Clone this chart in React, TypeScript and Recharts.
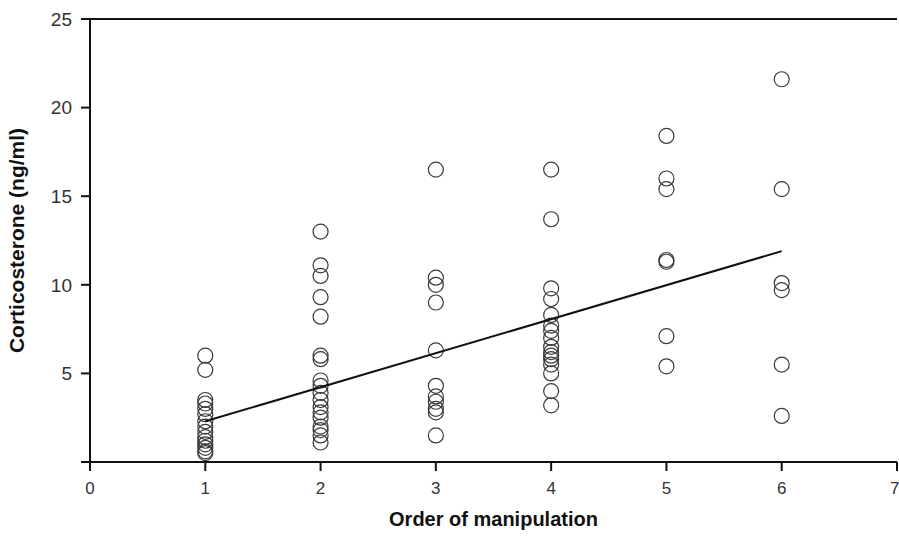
import { ScatterChart, Scatter, XAxis, YAxis, ReferenceLine, Label } from "recharts";

// corticosterone (ng/ml) by order of manipulation
const order1 = [6.0, 5.2, 3.5, 3.3, 3.0, 2.7, 2.3, 2.0, 1.7, 1.4, 1.2, 1.0, 0.8, 0.6, 0.5];
const order2 = [13.0, 11.1, 10.5, 9.3, 8.2, 6.0, 5.8, 4.6, 4.3, 3.9, 3.5, 3.1, 2.8, 2.5, 2.0, 1.8, 1.5, 1.1];
const order3 = [16.5, 10.4, 10.0, 9.0, 6.3, 4.3, 3.7, 3.4, 3.0, 2.8, 1.5];
const order4 = [16.5, 13.7, 9.8, 9.2, 8.3, 7.7, 7.4, 7.0, 6.5, 6.2, 6.0, 5.8, 5.5, 5.0, 4.0, 3.2];
const order5 = [18.4, 16.0, 15.4, 11.4, 11.3, 7.1, 5.4];
const order6 = [21.6, 15.4, 10.1, 9.7, 5.5, 2.6];

const groups = [order1, order2, order3, order4, order5, order6];
const points = groups.flatMap((vals, i) => vals.map((v) => ({ x: i + 1, y: v })));

// regression line end points
const fitX = [1, 6];
const fitY = [2.3, 11.9];
const fit = fitX.map((x, i) => ({ x, y: fitY[i] }));

const xTicks = [0, 1, 2, 3, 4, 5, 6, 7];
const yTicks = [0, 5, 10, 15, 20, 25];

const font = "'Liberation Sans', Arial, sans-serif";

const Ring = (props: any) => (
  <circle cx={props.cx} cy={props.cy} r={7.5} fill="none" stroke="#3a3a3a" strokeWidth={1.2} />
);

export default function App() {
  return (
    <div style={{ position: "absolute", left: 0, top: 0, background: "#fff" }}>
      <ScatterChart width={899} height={536} margin={{ top: 19, right: 2, left: 30, bottom: 34 }}>
        <XAxis
          type="number"
          dataKey="x"
          domain={[0, 7]}
          ticks={xTicks}
          stroke="#111"
          strokeWidth={2}
          tickSize={9}
          tickMargin={11}
          height={40}
          tick={{ fill: "#333", fontSize: 17, fontFamily: font }}
          allowDecimals={false}
        >
          <Label value="Order of manipulation" position="bottom" offset={10}
            style={{ fontFamily: font, fontWeight: "bold", fontSize: 20, fill: "#111" }} />
        </XAxis>
        <YAxis
          type="number"
          dataKey="y"
          domain={[0, 25]}
          ticks={yTicks}
          tickFormatter={(v) => (v === 0 ? "" : String(v))}
          stroke="#111"
          strokeWidth={2}
          tickSize={9}
          tickMargin={9}
          width={60}
          tick={{ fill: "#333", fontSize: 19, fontFamily: font }}
        >
          <Label value="Corticosterone (ng/ml)" angle={-90} position="insideLeft" offset={-13}
            style={{ fontFamily: font, fontWeight: "bold", fontSize: 21, fill: "#111", textAnchor: "middle" }} />
        </YAxis>
        <ReferenceLine y={25} stroke="#111" strokeWidth={2} />
        <Scatter data={points} shape={Ring} isAnimationActive={false} />
        <Scatter data={fit} line={{ stroke: "#111", strokeWidth: 2 }} shape={() => <g />} isAnimationActive={false} />
      </ScatterChart>
    </div>
  );
}
